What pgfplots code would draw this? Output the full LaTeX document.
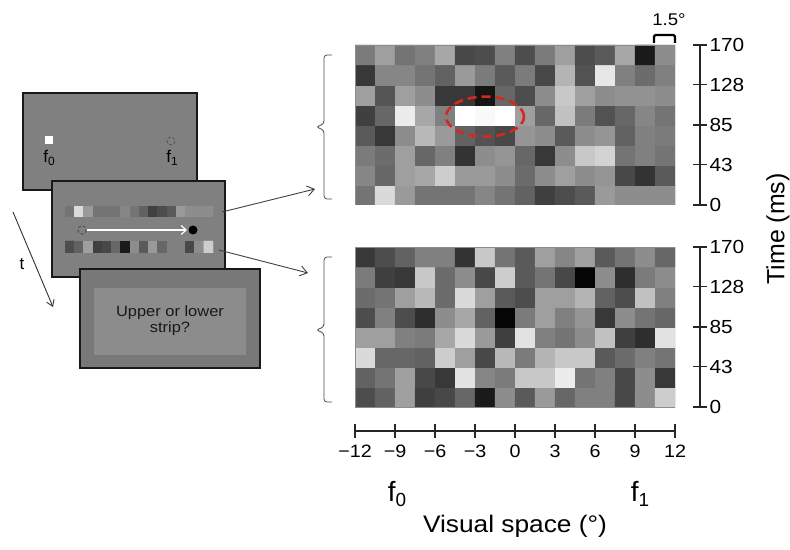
\documentclass[border=0pt]{standalone}
\usepackage{pgfplots}
\pgfplotsset{compat=1.18}
\usepackage{pgfplotstable}
\usepackage{fontspec}
\setmainfont{Liberation Sans}
\newfontfamily\widesans{Liberation Sans}[FakeStretch=1.1]
\usetikzlibrary{arrows.meta}

\definecolor{panelA}{gray}{0.50}
\definecolor{panelC}{gray}{0.47}
\definecolor{panelCin}{gray}{0.55}
\definecolor{ringred}{RGB}{214,40,32}
\newcommand\fs[1]{\fontsize{#1}{#1}\selectfont}

% reverse-correlation noise fields: x = position bin, y = time bin, c = luminance (0 black .. 100 white)
\pgfplotstableread{
x y c
0.5 0.5 45
1.5 0.5 85
2.5 0.5 60
3.5 0.5 45
4.5 0.5 45
5.5 0.5 45
6.5 0.5 52
7.5 0.5 45
8.5 0.5 38
9.5 0.5 25
10.5 0.5 30
11.5 0.5 35
12.5 0.5 60
13.5 0.5 55
14.5 0.5 55
15.5 0.5 55
0.5 1.5 52
1.5 1.5 40
2.5 1.5 62
3.5 1.5 65
4.5 1.5 80
5.5 1.5 60
6.5 1.5 60
7.5 1.5 55
8.5 1.5 42
9.5 1.5 55
10.5 1.5 62
11.5 1.5 55
12.5 1.5 58
13.5 1.5 28
14.5 1.5 20
15.5 1.5 35
0.5 2.5 48
1.5 2.5 42
2.5 2.5 62
3.5 2.5 40
4.5 2.5 50
5.5 2.5 20
6.5 2.5 55
7.5 2.5 58
8.5 2.5 40
9.5 2.5 22
10.5 2.5 55
11.5 2.5 78
12.5 2.5 82
13.5 2.5 45
14.5 2.5 50
15.5 2.5 45
0.5 3.5 35
1.5 3.5 22
2.5 3.5 55
3.5 3.5 72
4.5 3.5 60
5.5 3.5 38
6.5 3.5 32
7.5 3.5 28
8.5 3.5 58
9.5 3.5 55
10.5 3.5 35
11.5 3.5 55
12.5 3.5 58
13.5 3.5 38
14.5 3.5 50
15.5 3.5 48
0.5 4.5 25
1.5 4.5 40
2.5 4.5 92
3.5 4.5 65
4.5 4.5 50
5.5 4.5 100
6.5 4.5 97
7.5 4.5 100
8.5 4.5 62
9.5 4.5 40
10.5 4.5 75
11.5 4.5 48
12.5 4.5 32
13.5 4.5 40
14.5 4.5 52
15.5 4.5 45
0.5 5.5 62
1.5 5.5 33
2.5 5.5 62
3.5 5.5 55
4.5 5.5 22
5.5 5.5 22
6.5 5.5 8
7.5 5.5 40
8.5 5.5 30
9.5 5.5 55
10.5 5.5 78
11.5 5.5 62
12.5 5.5 55
13.5 5.5 57
14.5 5.5 57
15.5 5.5 55
0.5 6.5 22
1.5 6.5 52
2.5 6.5 52
3.5 6.5 45
4.5 6.5 38
5.5 6.5 60
6.5 6.5 48
7.5 6.5 35
8.5 6.5 48
9.5 6.5 28
10.5 6.5 70
11.5 6.5 32
12.5 6.5 90
13.5 6.5 50
14.5 6.5 42
15.5 6.5 50
0.5 7.5 48
1.5 7.5 62
2.5 7.5 45
3.5 7.5 50
4.5 7.5 65
5.5 7.5 28
6.5 7.5 30
7.5 7.5 50
8.5 7.5 30
9.5 7.5 48
10.5 7.5 62
11.5 7.5 30
12.5 7.5 35
13.5 7.5 65
14.5 7.5 10
15.5 7.5 55
}\uppergrid

\pgfplotstableread{
x y c
0.5 0.5 30
1.5 0.5 38
2.5 0.5 62
3.5 0.5 25
4.5 0.5 28
5.5 0.5 40
6.5 0.5 10
7.5 0.5 55
8.5 0.5 35
9.5 0.5 60
10.5 0.5 40
11.5 0.5 50
12.5 0.5 50
13.5 0.5 28
14.5 0.5 55
15.5 0.5 80
0.5 1.5 38
1.5 1.5 45
2.5 1.5 62
3.5 1.5 28
4.5 1.5 22
5.5 1.5 88
6.5 1.5 52
7.5 1.5 48
8.5 1.5 78
9.5 1.5 78
10.5 1.5 92
11.5 1.5 45
12.5 1.5 50
13.5 1.5 28
14.5 1.5 55
15.5 1.5 22
0.5 2.5 85
1.5 2.5 40
2.5 2.5 40
3.5 2.5 38
4.5 2.5 80
5.5 2.5 62
6.5 2.5 28
7.5 2.5 72
8.5 2.5 48
9.5 2.5 70
10.5 2.5 78
11.5 2.5 78
12.5 2.5 35
13.5 2.5 42
14.5 2.5 50
15.5 2.5 45
0.5 3.5 62
1.5 3.5 62
2.5 3.5 50
3.5 3.5 48
4.5 3.5 65
5.5 3.5 85
6.5 3.5 60
7.5 3.5 25
8.5 3.5 88
9.5 3.5 50
10.5 3.5 45
11.5 3.5 55
12.5 3.5 75
13.5 3.5 25
14.5 3.5 18
15.5 3.5 88
0.5 4.5 30
1.5 4.5 50
2.5 4.5 30
3.5 4.5 18
4.5 4.5 55
5.5 4.5 65
6.5 4.5 38
7.5 4.5 2
8.5 4.5 48
9.5 4.5 62
10.5 4.5 50
11.5 4.5 58
12.5 4.5 22
13.5 4.5 55
14.5 4.5 45
15.5 4.5 40
0.5 5.5 42
1.5 5.5 45
2.5 5.5 62
3.5 5.5 72
4.5 5.5 42
5.5 5.5 85
6.5 5.5 62
7.5 5.5 35
8.5 5.5 30
9.5 5.5 62
10.5 5.5 62
11.5 5.5 70
12.5 5.5 38
13.5 5.5 30
14.5 5.5 75
15.5 5.5 50
0.5 6.5 48
1.5 6.5 25
2.5 6.5 22
3.5 6.5 78
4.5 6.5 42
5.5 6.5 55
6.5 6.5 28
7.5 6.5 80
8.5 6.5 35
9.5 6.5 45
10.5 6.5 28
11.5 6.5 2
12.5 6.5 55
13.5 6.5 18
14.5 6.5 48
15.5 6.5 55
0.5 7.5 22
1.5 7.5 30
2.5 7.5 38
3.5 7.5 50
4.5 7.5 50
5.5 7.5 20
6.5 7.5 78
7.5 7.5 45
8.5 7.5 35
9.5 7.5 62
10.5 7.5 52
11.5 7.5 62
12.5 7.5 35
13.5 7.5 45
14.5 7.5 55
15.5 7.5 40
}\lowergrid

% the two strips shown on the stimulus screen (one frame of each field)
\pgfplotstableread{
x y c
0.5 0.5 45
1.5 0.5 85
2.5 0.5 60
3.5 0.5 45
4.5 0.5 45
5.5 0.5 45
6.5 0.5 52
7.5 0.5 45
8.5 0.5 38
9.5 0.5 25
10.5 0.5 30
11.5 0.5 35
12.5 0.5 60
13.5 0.5 55
14.5 0.5 55
15.5 0.5 55
0.5 1.5 45
1.5 1.5 85
2.5 1.5 60
3.5 1.5 45
4.5 1.5 45
5.5 1.5 45
6.5 1.5 52
7.5 1.5 45
8.5 1.5 38
9.5 1.5 25
10.5 1.5 30
11.5 1.5 35
12.5 1.5 60
13.5 1.5 55
14.5 1.5 55
15.5 1.5 55
}\upperstrip

\pgfplotstableread{
x y c
0.5 0.5 30
1.5 0.5 38
2.5 0.5 62
3.5 0.5 25
4.5 0.5 28
5.5 0.5 40
6.5 0.5 10
7.5 0.5 55
8.5 0.5 35
9.5 0.5 60
10.5 0.5 40
11.5 0.5 50
12.5 0.5 50
13.5 0.5 28
14.5 0.5 55
15.5 0.5 80
0.5 1.5 30
1.5 1.5 38
2.5 1.5 62
3.5 1.5 25
4.5 1.5 28
5.5 1.5 40
6.5 1.5 10
7.5 1.5 55
8.5 1.5 35
9.5 1.5 60
10.5 1.5 40
11.5 1.5 50
12.5 1.5 50
13.5 1.5 28
14.5 1.5 55
15.5 1.5 80
}\lowerstrip

\pgfplotsset{
  noisefield/.style={
    scale only axis, anchor=south west, hide axis,
    xmin=0, xmax=16, ymin=0, ymax=8,
    colormap={bw}{gray(0cm)=(0); gray(1cm)=(1)},
    point meta min=0, point meta max=100,
  },
  timeaxis/.style={
    scale only axis, anchor=south west, width=320bp, height=160bp,
    xmin=0, xmax=1, ymin=0, ymax=170,
    hide x axis, axis y line=right, y axis line style={-},
    axis line style={line width=1.5bp, black!85},
    ytick={0,43,85,128,170},
    yticklabels={{\widesans\fs{19}0},{\widesans\fs{19}43},{\widesans\fs{19}85},{\widesans\fs{19}128},{\widesans\fs{19}170}},
    tick align=center, major tick length=14bp,
    tick style={line width=1.4bp, black!85},
    yticklabel style={xshift=-1bp},
  },
}

\begin{document}
\begin{tikzpicture}[x=1bp, y=-1bp]
\path[use as bounding box] (0,0) rectangle (790,550);

\coordinate (G1) at (355,205);
\coordinate (G2) at (355,407);
\coordinate (T1) at (380,205);
\coordinate (T2) at (380,407);
\coordinate (XA) at (355,431);
\coordinate (S1) at (65,217);
\coordinate (S2) at (65,253);

% ---------- stimulus sequence ----------
\draw[panelA!40!black, line width=0.9bp, -{Straight Barb[length=6bp,width=8bp]}] (13,212) -- (53,307);
\node[font=\fs{17}] at (22,264) {t};

\draw[fill=panelA, draw=black!90, line width=1.8bp] (23,93) rectangle (197,190);
\fill[white] (45,136) rectangle (53,144);
\draw[black!70, densely dashed, line width=0.7bp] (171,141) circle (4);
\node[font=\fs{17}] at (49,158) {f\raisebox{-3bp}{\fs{12}0}};
\node[font=\fs{17}] at (172,158) {f\raisebox{-3bp}{\fs{12}1}};

\draw[fill=panelA, draw=black!90, line width=1.8bp] (52,181) rectangle (225,277);

\begin{axis}[noisefield, at={(S1)}, width=148bp, height=11bp, ymax=2]
\addplot[matrix plot*, mesh/cols=16, point meta=explicit] table[meta=c] {\upperstrip};
\end{axis}
\begin{axis}[noisefield, at={(S2)}, width=148bp, height=12bp, ymax=2]
\addplot[matrix plot*, mesh/cols=16, point meta=explicit] table[meta=c] {\lowerstrip};
\end{axis}

\draw[black!75, densely dashed, line width=0.7bp] (82,230) circle (4.2);
\draw[white, line width=1.1bp, -{Straight Barb[length=5bp,width=9bp]}] (86.5,230) -- (187,230);
\fill[black] (193,230) circle (4.5);

\draw[fill=panelC, draw=black!90, line width=1.8bp] (80,269) rectangle (260,368);
\fill[panelCin] (94,288) rectangle (246,355);
\node[font=\widesans\fs{15}, align=center, text=black!90] at (170,321) {Upper or lower\\[1bp]strip?};

% links from the two strips to their noise fields
\draw[black!75, line width=0.9bp, -{Straight Barb[length=7bp,width=10bp]}] (222,212) -- (315,189);
\draw[black!75, line width=0.9bp, -{Straight Barb[length=7bp,width=10bp]}] (219,250) -- (308,273);

% brackets on the left of each field
\draw[black!70, line width=0.8bp, rounded corners=3bp]
  (332,55) -- (324,55) -- (324,124) -- (316,127) -- (324,130) -- (324,199) -- (332,199);
\draw[black!70, line width=0.8bp, rounded corners=3bp]
  (332,257) -- (324,257) -- (324,327) -- (316,330) -- (324,333) -- (324,402) -- (332,402);

% ---------- noise fields ----------
\begin{axis}[noisefield, at={(G1)}, width=320bp, height=160bp]
\addplot[matrix plot*, mesh/cols=16, point meta=explicit] table[meta=c] {\uppergrid};
\draw[black!45, line width=0.8bp] (axis cs:0,0) rectangle (axis cs:16,8);
\draw[ringred, line width=2.6bp, dash pattern=on 9bp off 5bp] (axis cs:6.5,4.42) ellipse [x radius=1.95, y radius=1.0];
\end{axis}

\begin{axis}[noisefield, at={(G2)}, width=320bp, height=160bp]
\addplot[matrix plot*, mesh/cols=16, point meta=explicit] table[meta=c] {\lowergrid};
\draw[black!45, line width=0.8bp] (axis cs:0,0) rectangle (axis cs:16,8);
\end{axis}

% time axes on the right
\begin{axis}[timeaxis, at={(T1)}]
\end{axis}
\begin{axis}[timeaxis, at={(T2)}]
\end{axis}
\node[rotate=90, font=\fs{25}] at (778,229) {Time (ms)};

% bin-width marker
\draw[black, line width=2.4bp, rounded corners=1.5bp] (654,43) -- (654,35) -- (675,35) -- (675,43);
\node[font=\widesans\fs{17}] at (669,20) {1.5°};

% visual space axis
\begin{axis}[scale only axis, anchor=south west, at={(XA)}, width=320bp, height=10bp,
  xmin=-12, xmax=12, ymin=0, ymax=1,
  axis x line=bottom, hide y axis, x axis line style={-},
  axis line style={line width=1.5bp, black!85},
  xtick={-12,-9,-6,-3,0,3,6,9,12},
  xticklabels={{\widesans\fs{18}−12},{\widesans\fs{18}−9},{\widesans\fs{18}−6},{\widesans\fs{18}−3},{\widesans\fs{18}0},{\widesans\fs{18}3},{\widesans\fs{18}6},{\widesans\fs{18}9},{\widesans\fs{18}12}},
  tick align=center, major tick length=14bp,
  tick style={line width=1.4bp, black!85},
  xticklabel style={yshift=-3bp}]
\end{axis}
\node[font=\fs{28}] at (397,494) {f\raisebox{-5bp}{\fs{19}0}};
\node[font=\fs{28}] at (640,494) {f\raisebox{-5bp}{\fs{19}1}};
\node[font=\widesans\fs{24}] at (515,526) {Visual space (°)};
\end{tikzpicture}
\end{document}
